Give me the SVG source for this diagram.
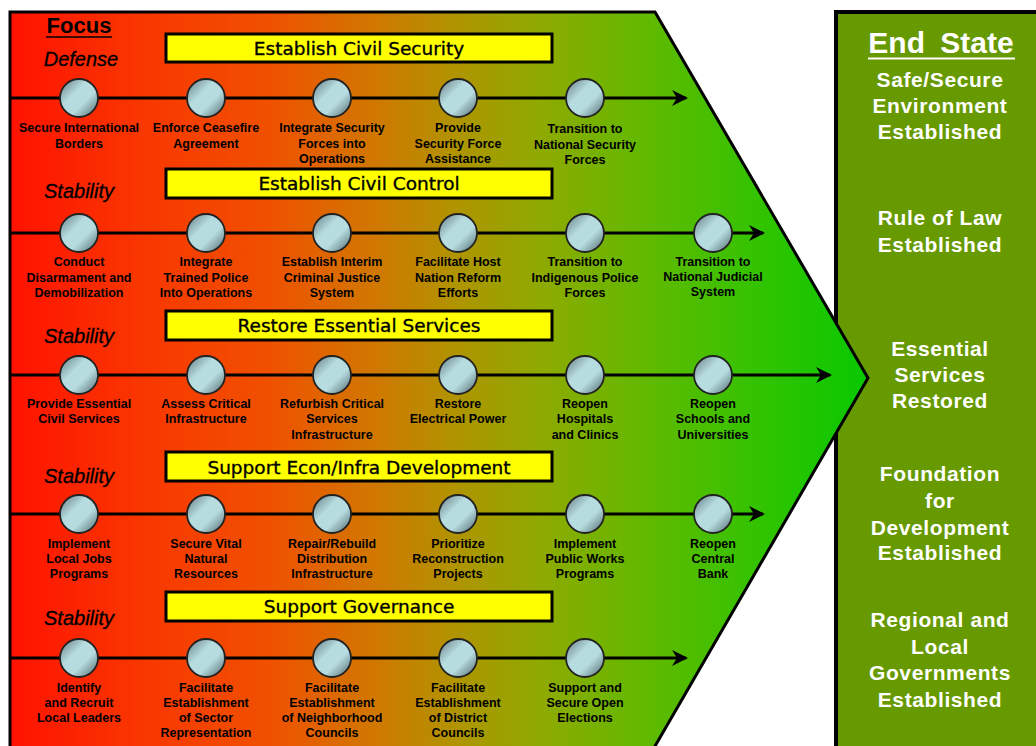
<svg xmlns="http://www.w3.org/2000/svg" width="1036" height="746" viewBox="0 0 1036 746">
<defs>
<linearGradient id="bg" gradientUnits="userSpaceOnUse" x1="10" y1="0" x2="868" y2="0">
<stop offset="0" stop-color="#ff1200"/>
<stop offset="0.15" stop-color="#f93600"/>
<stop offset="0.3" stop-color="#f05000"/>
<stop offset="0.42" stop-color="#d27600"/>
<stop offset="0.52" stop-color="#b09400"/>
<stop offset="0.62" stop-color="#8eaa00"/>
<stop offset="0.75" stop-color="#5eba00"/>
<stop offset="0.88" stop-color="#30c400"/>
<stop offset="1" stop-color="#08c800"/>
</linearGradient>
<linearGradient id="ball" x1="0" y1="0" x2="1" y2="1">
<stop offset="0" stop-color="#62787e"/>
<stop offset="0.38" stop-color="#b6dce0"/>
<stop offset="0.62" stop-color="#b6dce0"/>
<stop offset="1" stop-color="#4e6468"/>
</linearGradient>
<marker id="ah" viewBox="0 0 16 16" refX="14" refY="8" markerWidth="16" markerHeight="16" markerUnits="userSpaceOnUse" orient="auto">
<path d="M0,0 L16,8 L0,16 L5,8 z" fill="#000"/>
</marker>
</defs>
<style>
.conn{stroke:#000;stroke-width:3;fill:none;marker-end:url(#ah)}
.ball{fill:url(#ball);stroke:#222;stroke-width:1.8}
.lbl{font-family:"Liberation Sans",Arial,sans-serif;font-weight:bold;font-size:12.5px;fill:#000;text-anchor:middle}
.box{fill:#ffff00;stroke:#000;stroke-width:3}
.boxt{font-family:"DejaVu Sans",Verdana,sans-serif;font-size:18.5px;fill:#000;stroke:#000;stroke-width:0.35;text-anchor:middle}
.foc{font-family:"Liberation Sans",Arial,sans-serif;font-style:italic;font-size:20px;fill:#000;stroke:#000;stroke-width:0.3;text-anchor:middle}
.end{font-family:"Liberation Sans",Arial,sans-serif;font-weight:bold;font-size:21px;letter-spacing:0.6px;fill:#fff;text-anchor:middle}
</style>
<rect width="1036" height="746" fill="#fff"/>
<g id="endstate">
<rect x="836" y="12" width="210" height="745" fill="#679900" stroke="#000" stroke-width="4"/>
<text x="941" y="53" font-family="Liberation Sans,Arial,sans-serif" font-weight="bold" font-size="30" word-spacing="7" fill="#fff" text-anchor="middle">End State</text>
<line x1="868" y1="58.5" x2="1015" y2="58.5" stroke="#fff" stroke-width="2"/>
<text class="end" x="940"><tspan x="940" y="87">Safe/Secure</tspan><tspan x="940" y="113">Environment</tspan><tspan x="940" y="139">Established</tspan></text>
<text class="end" x="940"><tspan x="940" y="225">Rule of Law</tspan><tspan x="940" y="252">Established</tspan></text>
<text class="end" x="940"><tspan x="940" y="356">Essential</tspan><tspan x="940" y="382">Services</tspan><tspan x="940" y="408">Restored</tspan></text>
<text class="end" x="940"><tspan x="940" y="481">Foundation</tspan><tspan x="940" y="508">for</tspan><tspan x="940" y="535">Development</tspan><tspan x="940" y="560">Established</tspan></text>
<text class="end" x="940"><tspan x="940" y="627">Regional and</tspan><tspan x="940" y="654">Local</tspan><tspan x="940" y="680">Governments</tspan><tspan x="940" y="707">Established</tspan></text>
</g>
<g id="chevron">
<polygon points="10,12 655,12 868,378 647,760 10,760" fill="url(#bg)" stroke="#000" stroke-width="3"/>
</g>
<g id="focus">
<text x="79" y="33" font-family="Liberation Sans,Arial,sans-serif" font-weight="bold" font-size="22" fill="#000" text-anchor="middle">Focus</text>
<line x1="46" y1="37" x2="112" y2="37" stroke="#000" stroke-width="1.5"/>
<text class="foc" x="81" y="66">Defense</text>
<text class="foc" x="79" y="198">Stability</text>
<text class="foc" x="79" y="343">Stability</text>
<text class="foc" x="79" y="483">Stability</text>
<text class="foc" x="79" y="625">Stability</text>
</g>
<g id="connectors">
<line class="conn" x1="10" y1="98" x2="686" y2="98"/>
<line class="conn" x1="10" y1="233" x2="763" y2="233"/>
<line class="conn" x1="10" y1="375" x2="830" y2="375"/>
<line class="conn" x1="10" y1="514" x2="763" y2="514"/>
<line class="conn" x1="10" y1="658" x2="686" y2="658"/>
</g>
<g id="titles">
<g id="t1"><rect class="box" x="166" y="34" width="386" height="28"/><text class="boxt" x="359" y="54.5">Establish Civil Security</text></g>
<g id="t2"><rect class="box" x="166" y="169" width="386" height="29"/><text class="boxt" x="359" y="190">Establish Civil Control</text></g>
<g id="t3"><rect class="box" x="166" y="311" width="386" height="29"/><text class="boxt" x="359" y="332">Restore Essential Services</text></g>
<g id="t4"><rect class="box" x="166" y="452" width="386" height="29"/><text class="boxt" x="359" y="473.5">Support Econ/Infra Development</text></g>
<g id="t5"><rect class="box" x="166" y="592" width="386" height="29"/><text class="boxt" x="359" y="613">Support Governance</text></g>
</g>
<g id="row1">
<g id="n1a"><circle class="ball" cx="79" cy="98" r="19"/><text class="lbl"><tspan x="79" y="132">Secure International</tspan><tspan x="79" y="148">Borders</tspan></text></g>
<g id="n1b"><circle class="ball" cx="206" cy="98" r="19"/><text class="lbl"><tspan x="206" y="132">Enforce Ceasefire</tspan><tspan x="206" y="148">Agreement</tspan></text></g>
<g id="n1c"><circle class="ball" cx="332" cy="98" r="19"/><text class="lbl"><tspan x="332" y="132">Integrate Security</tspan><tspan x="332" y="148">Forces into</tspan><tspan x="332" y="163">Operations</tspan></text></g>
<g id="n1d"><circle class="ball" cx="458" cy="98" r="19"/><text class="lbl"><tspan x="458" y="132">Provide</tspan><tspan x="458" y="148">Security Force</tspan><tspan x="458" y="163">Assistance</tspan></text></g>
<g id="n1e"><circle class="ball" cx="585" cy="98" r="19"/><text class="lbl"><tspan x="585" y="133">Transition to</tspan><tspan x="585" y="149">National Security</tspan><tspan x="585" y="164">Forces</tspan></text></g>
</g>
<g id="row2">
<g id="n2a"><circle class="ball" cx="79" cy="233" r="19"/><text class="lbl"><tspan x="79" y="266">Conduct</tspan><tspan x="79" y="282">Disarmament and</tspan><tspan x="79" y="297">Demobilization</tspan></text></g>
<g id="n2b"><circle class="ball" cx="206" cy="233" r="19"/><text class="lbl"><tspan x="206" y="266">Integrate</tspan><tspan x="206" y="282">Trained Police</tspan><tspan x="206" y="297">Into Operations</tspan></text></g>
<g id="n2c"><circle class="ball" cx="332" cy="233" r="19"/><text class="lbl"><tspan x="332" y="266">Establish Interim</tspan><tspan x="332" y="282">Criminal Justice</tspan><tspan x="332" y="297">System</tspan></text></g>
<g id="n2d"><circle class="ball" cx="458" cy="233" r="19"/><text class="lbl"><tspan x="458" y="266">Facilitate Host</tspan><tspan x="458" y="282">Nation Reform</tspan><tspan x="458" y="297">Efforts</tspan></text></g>
<g id="n2e"><circle class="ball" cx="585" cy="233" r="19"/><text class="lbl"><tspan x="585" y="266">Transition to</tspan><tspan x="585" y="282">Indigenous Police</tspan><tspan x="585" y="297">Forces</tspan></text></g>
<g id="n2f"><circle class="ball" cx="713" cy="233" r="19"/><text class="lbl"><tspan x="713" y="266">Transition to</tspan><tspan x="713" y="281">National Judicial</tspan><tspan x="713" y="296">System</tspan></text></g>
</g>
<g id="row3">
<g id="n3a"><circle class="ball" cx="79" cy="375" r="19"/><text class="lbl"><tspan x="79" y="408">Provide Essential</tspan><tspan x="79" y="423">Civil Services</tspan></text></g>
<g id="n3b"><circle class="ball" cx="206" cy="375" r="19"/><text class="lbl"><tspan x="206" y="408">Assess Critical</tspan><tspan x="206" y="423">Infrastructure</tspan></text></g>
<g id="n3c"><circle class="ball" cx="332" cy="375" r="19"/><text class="lbl"><tspan x="332" y="408">Refurbish Critical</tspan><tspan x="332" y="423">Services</tspan><tspan x="332" y="439">Infrastructure</tspan></text></g>
<g id="n3d"><circle class="ball" cx="458" cy="375" r="19"/><text class="lbl"><tspan x="458" y="408">Restore</tspan><tspan x="458" y="423">Electrical Power</tspan></text></g>
<g id="n3e"><circle class="ball" cx="585" cy="375" r="19"/><text class="lbl"><tspan x="585" y="408">Reopen</tspan><tspan x="585" y="423">Hospitals</tspan><tspan x="585" y="439">and Clinics</tspan></text></g>
<g id="n3f"><circle class="ball" cx="713" cy="375" r="19"/><text class="lbl"><tspan x="713" y="408">Reopen</tspan><tspan x="713" y="423">Schools and</tspan><tspan x="713" y="439">Universities</tspan></text></g>
</g>
<g id="row4">
<g id="n4a"><circle class="ball" cx="79" cy="514" r="19"/><text class="lbl"><tspan x="79" y="548">Implement</tspan><tspan x="79" y="563">Local Jobs</tspan><tspan x="79" y="578">Programs</tspan></text></g>
<g id="n4b"><circle class="ball" cx="206" cy="514" r="19"/><text class="lbl"><tspan x="206" y="548">Secure Vital</tspan><tspan x="206" y="563">Natural</tspan><tspan x="206" y="578">Resources</tspan></text></g>
<g id="n4c"><circle class="ball" cx="332" cy="514" r="19"/><text class="lbl"><tspan x="332" y="548">Repair/Rebuild</tspan><tspan x="332" y="563">Distribution</tspan><tspan x="332" y="578">Infrastructure</tspan></text></g>
<g id="n4d"><circle class="ball" cx="458" cy="514" r="19"/><text class="lbl"><tspan x="458" y="548">Prioritize</tspan><tspan x="458" y="563">Reconstruction</tspan><tspan x="458" y="578">Projects</tspan></text></g>
<g id="n4e"><circle class="ball" cx="585" cy="514" r="19"/><text class="lbl"><tspan x="585" y="548">Implement</tspan><tspan x="585" y="563">Public Works</tspan><tspan x="585" y="578">Programs</tspan></text></g>
<g id="n4f"><circle class="ball" cx="713" cy="514" r="19"/><text class="lbl"><tspan x="713" y="548">Reopen</tspan><tspan x="713" y="563">Central</tspan><tspan x="713" y="578">Bank</tspan></text></g>
</g>
<g id="row5">
<g id="n5a"><circle class="ball" cx="79" cy="658" r="19"/><text class="lbl"><tspan x="79" y="692">Identify</tspan><tspan x="79" y="707">and Recruit</tspan><tspan x="79" y="722">Local Leaders</tspan></text></g>
<g id="n5b"><circle class="ball" cx="206" cy="658" r="19"/><text class="lbl"><tspan x="206" y="692">Facilitate</tspan><tspan x="206" y="707">Establishment</tspan><tspan x="206" y="722">of Sector</tspan><tspan x="206" y="737">Representation</tspan></text></g>
<g id="n5c"><circle class="ball" cx="332" cy="658" r="19"/><text class="lbl"><tspan x="332" y="692">Facilitate</tspan><tspan x="332" y="707">Establishment</tspan><tspan x="332" y="722">of Neighborhood</tspan><tspan x="332" y="737">Councils</tspan></text></g>
<g id="n5d"><circle class="ball" cx="458" cy="658" r="19"/><text class="lbl"><tspan x="458" y="692">Facilitate</tspan><tspan x="458" y="707">Establishment</tspan><tspan x="458" y="722">of District</tspan><tspan x="458" y="737">Councils</tspan></text></g>
<g id="n5e"><circle class="ball" cx="585" cy="658" r="19"/><text class="lbl"><tspan x="585" y="692">Support and</tspan><tspan x="585" y="707">Secure Open</tspan><tspan x="585" y="722">Elections</tspan></text></g>
</g>
</svg>
